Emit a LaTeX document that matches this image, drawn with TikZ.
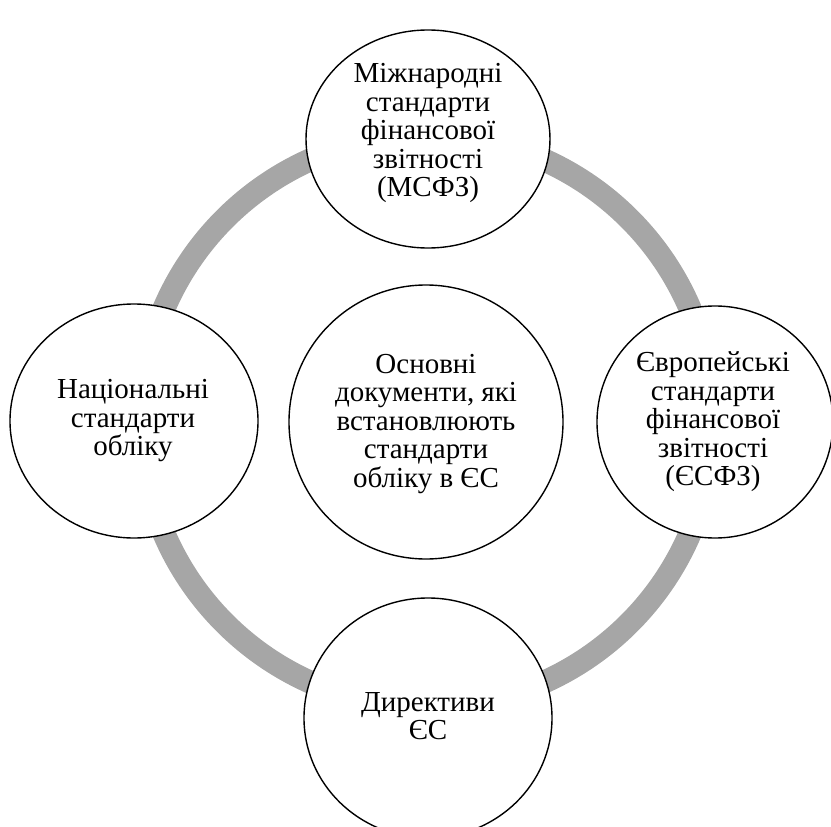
\documentclass[tikz,border=0pt]{standalone}
\usepackage{fontspec}
\setmainfont{Liberation Serif}
\usetikzlibrary{shapes.geometric}
\definecolor{ringgray}{HTML}{A6A6A6}
\begin{document}
\begin{tikzpicture}[x=1pt,y=-1pt,
  ringline/.style={draw=ringgray,line width=23pt},
  bubble/.style={ellipse,draw=black,line width=1.4pt,fill=white,inner sep=0pt,
    align=center,font=\fontsize{29}{28.5}\selectfont},
]
\useasboundingbox (0,0) rectangle (831,827);
\coordinate (ringc) at (427,421);
\draw[ringline] (ringc) circle[radius=286];
\node[bubble,minimum width=244pt,minimum height=218pt] (top) at (428,139) {};
\node[bubble,minimum width=248pt,minimum height=234pt] (left) at (134,421) {};
\node[bubble,minimum width=274pt,minimum height=274pt] (mid) at (426,422) {};
\node[bubble,minimum width=236pt,minimum height=232pt] (right) at (715,422) {};
\node[bubble,minimum width=248pt,minimum height=240pt] (bottom) at (428,718) {};
\node[align=center,font=\fontsize{29}{28.5}\selectfont] (toptext) at (428,133) {Міжнародні\\стандарти\\фінансової\\звітності\\(МСФЗ)};
\node[align=center,font=\fontsize{29}{28.5}\selectfont] (lefttext) at (133,421) {Національні\\стандарти\\обліку};
\node[align=center,font=\fontsize{29}{28.5}\selectfont] (midtext) at (426,424) {Основні\\документи, які\\встановлюють\\стандарти\\обліку в ЄС};
\node[align=center,font=\fontsize{29}{28.5}\selectfont] (righttext) at (713,422) {Європейські\\стандарти\\фінансової\\звітності\\(ЄСФЗ)};
\node[align=center,font=\fontsize{29}{28.5}\selectfont] (bottomtext) at (428,716) {Директиви\\ЄС};
\end{tikzpicture}
\end{document}
